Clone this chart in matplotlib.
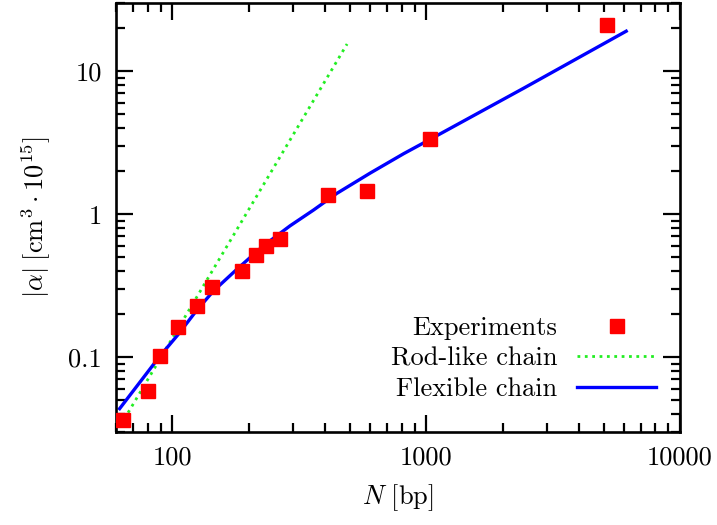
import matplotlib
matplotlib.use("Agg")
import matplotlib.pyplot as plt
from matplotlib.ticker import LogLocator, NullFormatter

plt.rcParams['font.family'] = 'serif'
plt.rcParams['font.serif'] = ['cmr10']
plt.rcParams['mathtext.fontset'] = 'cm'
plt.rcParams['axes.unicode_minus'] = False
plt.rcParams['font.size'] = 19

# measured polarizability vs chain length
n_exp = [63.8, 80.1, 89.3, 105.6, 125, 143.5, 188.4, 214, 234, 266, 412, 587, 1033, 5174]
alpha_exp = [0.0362, 0.0578, 0.1027, 0.162, 0.227, 0.31, 0.398, 0.516, 0.60, 0.668, 1.366, 1.45, 3.35, 20.9]

# rod-like model (alpha ~ N^3)
n_rod = [64.7, 488]
alpha_rod = [0.037, 15.5]

# flexible (worm-like) chain model
n_flex = [62, 89, 105, 124, 145, 179, 228, 291, 360, 445, 602, 815, 1040, 2432, 6138]
alpha_flex = [0.0437, 0.101, 0.143, 0.21, 0.29, 0.41, 0.60, 0.83, 1.07, 1.40, 1.94, 2.65, 3.35, 7.64, 19.05]

fig, ax = plt.subplots(figsize=(7.17, 5.25), dpi=100)
fig.subplots_adjust(left=0.1618, right=0.9484, top=0.9943, bottom=0.1771)

ax.plot(n_exp, alpha_exp, 's', color='#ff0000', markersize=9.5, label='Experiments', zorder=3)
ax.plot(n_rod, alpha_rod, ':', color='#22ee22', linewidth=2.0, label='Rod-like chain')
ax.plot(n_flex, alpha_flex, '-', color='#0000ff', linewidth=2.4, label='Flexible chain')

ax.set_xscale('log')
ax.set_yscale('log')
ax.set_xlim(60, 10000)
ax.set_ylim(0.03, 30)

ax.set_xticks([100, 1000, 10000])
ax.set_xticklabels(['100', '1000', '10000'])
ax.set_yticks([0.1, 1, 10])
ax.set_yticklabels(['0.1', '1', '10'])
ax.xaxis.set_minor_locator(LogLocator(base=10, subs=range(2, 10)))
ax.yaxis.set_minor_locator(LogLocator(base=10, subs=range(2, 10)))
ax.xaxis.set_minor_formatter(NullFormatter())
ax.yaxis.set_minor_formatter(NullFormatter())

ax.tick_params(which='both', direction='in', top=True, right=True, width=1.6)
ax.tick_params(which='major', length=12, pad=10)
ax.tick_params(which='minor', length=6.5)
for s in ax.spines.values():
    s.set_linewidth(1.9)

ax.set_xlabel(r'$N\ [\mathrm{bp}]$', labelpad=9)
ax.set_ylabel(r'$|\alpha|\;[\mathrm{cm}^3\cdot10^{15}]$', labelpad=11)

ax.legend(loc='lower right', bbox_to_anchor=(0.977, 0.048), frameon=False,
          markerfirst=False, handlelength=3.0, handletextpad=0.75,
          labelspacing=0.25, borderaxespad=0, numpoints=1)

fig.savefig('out.png', dpi=100)
